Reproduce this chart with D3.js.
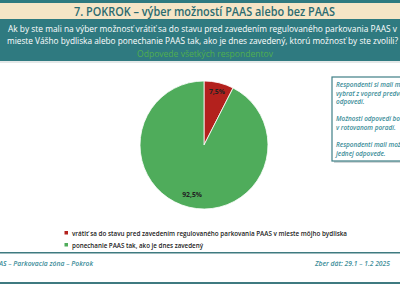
<!DOCTYPE html>
<html>
<head>
<meta charset="utf-8">
<script src="https://cdn.jsdelivr.net/npm/d3@7"></script>
<style>
  body { margin: 0; background: #fff; }
  svg { display: block; font-family: "Open Sans", "Noto Sans", sans-serif; }
</style>
</head>
<body>
<svg id="chart" width="400" height="284"></svg>
<script>
// chart data
const categories = [
  "vrátiť sa do stavu pred zavedením regulovaného parkovania PAAS v mieste môjho bydliska",
  "ponechanie PAAS tak, ako je dnes zavedený"
];
const values = [7.5, 92.5];
const sliceColors = ["#b3211d", "#4fac5b"];

const title = "7. POKROK – výber možností PAAS alebo bez PAAS";
const questionLines = [
  "Ak by ste mali na výber možnosť vrátiť sa do stavu pred zavedením regulovaného parkovania PAAS  v",
  "mieste Vášho bydliska alebo ponechanie PAAS tak, ako je dnes zavedený, ktorú možnosť by ste zvolili?"
];
const subtitle = "Odpovede všetkých respondentov";
const noteLines = [
  "Respondenti si mali možnosť",
  "vybrať z vopred predvolených",
  "odpovedí.",
  "",
  "Možnosti odpovedí boli",
  "v rotovanom poradí.",
  "",
  "Respondenti mali možnosť",
  "jednej odpovede."
];
const footerLeft = "PAAS – Parkovacia zóna – Pokrok";
const footerRight = "Zber dát: 29.1 – 1.2 2025";

const svg = d3.select("#chart");
const teal = "#2f7a80";

// fit a text to a given width (the original uses a narrow font)
function fit(sel, w) {
  return sel.attr("textLength", w).attr("lengthAdjust", "spacingAndGlyphs");
}

// header bands
svg.append("rect").attr("x", 0).attr("y", 0).attr("width", 400).attr("height", 3).attr("fill", teal);
svg.append("rect").attr("x", 0).attr("y", 3).attr("width", 400).attr("height", 16).attr("fill", "#f6e5c6");
svg.append("rect").attr("x", 0).attr("y", 19).attr("width", 400).attr("height", 42).attr("fill", teal);
svg.append("rect").attr("x", 0).attr("y", 61).attr("width", 400).attr("height", 2).attr("fill", "#e4e8e8");

fit(svg.append("text")
  .attr("x", 74).attr("y", 16)
  .attr("font-size", 12.5).attr("font-weight", 600)
  .attr("fill", "#2b6b70")
  .text(title), 261);

const qLen = [389, 391];
questionLines.forEach((t, i) => {
  fit(svg.append("text")
    .attr("x", i === 0 ? 8 : 7).attr("y", 32 + i * 12)
    .attr("font-size", 8.8).attr("fill", "#ffffff")
    .text(t), qLen[i]);
});
fit(svg.append("text")
  .attr("x", 137).attr("y", 57)
  .attr("font-size", 8.8).attr("fill", "#4fae4f")
  .text(subtitle), 136);

// pie
const cx = 204, cy = 145, r = 64;
const pie = d3.pie().sort(null).value(d => d)(values);
const arc = d3.arc().innerRadius(0).outerRadius(r);
const g = svg.append("g").attr("transform", `translate(${cx},${cy})`);
g.selectAll("path")
  .data(pie)
  .enter()
  .append("path")
  .attr("d", arc)
  .attr("fill", (d, i) => sliceColors[i])
  .attr("stroke", "#ffffff")
  .attr("stroke-width", 0.8);

const labelR = [r * 0.86, r * 0.8];
g.selectAll("text.lbl")
  .data(pie)
  .enter()
  .append("text")
  .attr("class", "lbl")
  .attr("transform", (d, i) => {
    const c = d3.arc().innerRadius(labelR[i]).outerRadius(labelR[i]).centroid(d);
    return `translate(${c[0]},${c[1] + 2.5})`;
  })
  .attr("text-anchor", "middle")
  .attr("font-size", 6.8).attr("font-weight", 700)
  .attr("fill", "#222")
  .text(d => d3.format(".1f")(d.data).replace(".", ",") + "%");

// note box (runs off the right edge, as in the original slide)
svg.append("rect")
  .attr("x", 334).attr("y", 79).attr("width", 80).attr("height", 84)
  .attr("fill", "#d0d6d8");
svg.append("rect")
  .attr("x", 332).attr("y", 77).attr("width", 80).attr("height", 84)
  .attr("fill", "#ffffff").attr("stroke", "#3f7f86").attr("stroke-width", 1.2);
noteLines.forEach((t, i) => {
  svg.append("text")
    .attr("x", 336).attr("y", 87 + i * 8.6)
    .attr("font-size", 6.4).attr("font-style", "italic").attr("font-weight", 600)
    .attr("fill", "#3a8c98")
    .text(t);
});

// legend
const legLen = [275, 131];
categories.forEach((c, i) => {
  const y = 233 + i * 12;
  svg.append("rect")
    .attr("x", 64.5).attr("y", y - 2).attr("width", 3.5).attr("height", 3.5)
    .attr("fill", sliceColors[i]);
  fit(svg.append("text")
    .attr("x", 72).attr("y", y + 2.5)
    .attr("font-size", 7).attr("font-weight", 600)
    .attr("fill", "#222")
    .text(c), legLen[i]);
});

// footer
svg.append("rect").attr("x", 0).attr("y", 252).attr("width", 400).attr("height", 1.5).attr("fill", "#3f7a80");
svg.append("rect").attr("x", 0).attr("y", 282).attr("width", 400).attr("height", 2).attr("fill", "#3f7a80");
fit(svg.append("text")
  .attr("x", -9).attr("y", 266)
  .attr("font-size", 6.6).attr("font-style", "italic").attr("font-weight", 600)
  .attr("fill", "#3a8c98")
  .text(footerLeft), 102);
fit(svg.append("text")
  .attr("x", 315).attr("y", 266)
  .attr("font-size", 6.6).attr("font-style", "italic").attr("font-weight", 600)
  .attr("fill", "#3a8c98")
  .text(footerRight), 75);
</script>
</body>
</html>
